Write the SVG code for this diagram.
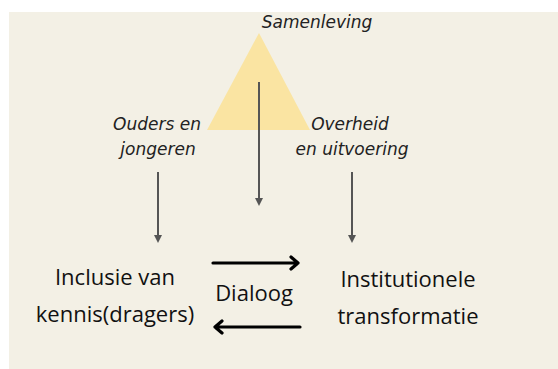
<svg xmlns="http://www.w3.org/2000/svg" width="558" height="369" viewBox="0 0 558 369">
<defs>
<style>
.it{font-family:"DejaVu Sans",sans-serif;font-style:italic;font-size:17px;fill:#222;text-anchor:middle}
.lb{font-family:"Open Sans","Noto Sans",sans-serif;font-size:22px;fill:#111;text-anchor:middle}
.gray{stroke:#555;stroke-width:2;fill:none}
.blk{stroke:#000;stroke-width:3.2;fill:none;stroke-linecap:round;stroke-linejoin:round}
</style>
<marker id="tri" viewBox="0 0 10 10" refX="5" refY="5" markerWidth="4" markerHeight="4" orient="auto" markerUnits="strokeWidth">
<path d="M0,0 L10,5 L0,10 Z" fill="#555"/>
</marker>
</defs>
<rect x="0" y="0" width="558" height="369" fill="#fff"/>
<rect x="9" y="12" width="549" height="357" fill="#F3F0E5"/>
<g id="samenleving">
<polygon points="259,33 207,130 310,130" fill="#FAE4A2"/>
<text class="it" x="317" y="28">Samenleving</text>
</g>
<g id="ouders">
<text class="it" x="157" y="130">Ouders en</text>
<text class="it" x="158" y="155">jongeren</text>
</g>
<g id="overheid">
<text class="it" x="350" y="130">Overheid</text>
<text class="it" x="352" y="155">en uitvoering</text>
</g>
<g id="inclusie">
<text class="lb" x="115" y="285">Inclusie van</text>
<text class="lb" x="115" y="322">kennis(dragers)</text>
</g>
<g id="dialoog">
<text class="lb" x="254" y="301">Dialoog</text>
</g>
<g id="institutionele">
<text class="lb" x="408" y="287">Institutionele</text>
<text class="lb" x="408" y="324">transformatie</text>
</g>
<g id="connectors">
<line class="gray" x1="158" y1="172" x2="158" y2="239" marker-end="url(#tri)"/>
<line class="gray" x1="259" y1="82" x2="259" y2="202" marker-end="url(#tri)"/>
<line class="gray" x1="352" y1="172" x2="352" y2="239" marker-end="url(#tri)"/>
<path class="blk" d="M213,263 H298 M291,257 L298,263 L291,269"/>
<path class="blk" d="M300,327 H215 M222,321 L215,327 L222,333"/>
</g>
</svg>
